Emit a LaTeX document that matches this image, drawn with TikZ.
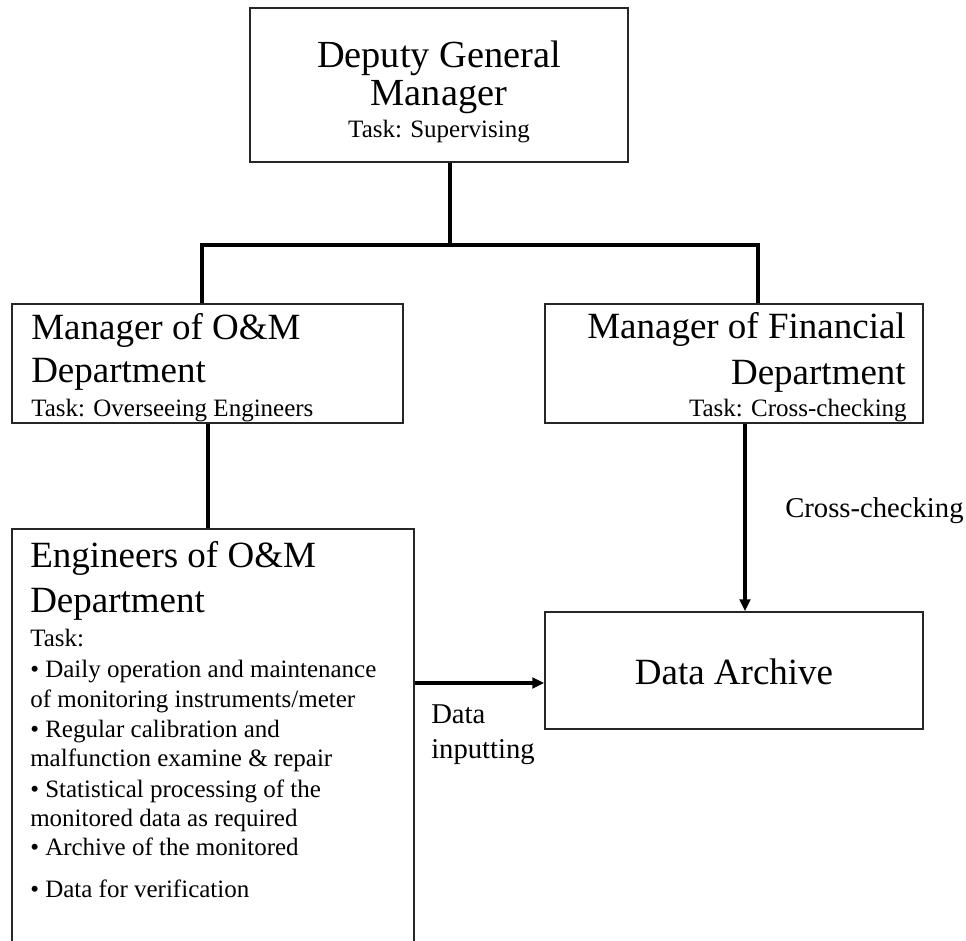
\documentclass[tikz,border=0pt]{standalone}
\usepackage{fontspec}
\setmainfont{Liberation Serif}
\usetikzlibrary{arrows.meta,calc}
\tikzset{
  box/.style={draw=black!85, line width=1.1pt, rectangle, inner sep=0pt},
  big/.style={font=\fontsize{27.75}{33}\selectfont, inner sep=0pt},
  bigger/.style={font=\fontsize{28.75}{34}\selectfont, inner sep=0pt},
  small/.style={font=\fontsize{18.75}{22}\selectfont, inner sep=0pt},
  lbl/.style={font=\fontsize{21.5}{25}\selectfont, inner sep=0pt},
  conn/.style={line width=3pt, black},
  arr/.style={line width=3pt, black, -{Triangle[length=9pt,width=8pt]}}
}
\begin{document}
\begin{tikzpicture}[x=0.75pt, y=-0.75pt]
\clip (0,0) rectangle (966,941);
\fill[white] (0,0) rectangle (966,941);
% boxes
\node[box, minimum width=283.5pt, minimum height=115.5pt] (dgm) at (439,85) {};
\node[box, minimum width=293.25pt, minimum height=89.25pt] (oml) at (207.5,363.5) {};
\node[box, minimum width=283.5pt, minimum height=89.25pt] (fin) at (734,363.5) {};
\node[box, minimum width=301.5pt, minimum height=323.25pt] (eng) at (213,744.5) {};
\node[box, minimum width=283.5pt, minimum height=87.75pt] (da) at (734,670.5) {};
% texts
\node[bigger, anchor=base] (dgm1) at (439,68) {Deputy General};
\node[bigger, anchor=base] (dgm2) at (439,106) {Manager};
\node[small, anchor=base] (dgm3) at (439,138) {Task: Supervising};
\node[big, anchor=base west] (oml1) at (31,339) {Manager of O\&M};
\node[big, anchor=base west] (oml2) at (31,382) {Department};
\node[small, anchor=base west] (oml3) at (31,416) {Task: Overseeing Engineers};
\node[big, anchor=base east] (fin1) at (906,338) {Manager of Financial};
\node[big, anchor=base east] (fin2) at (906,384) {Department};
\node[small, anchor=base east] (fin3) at (907,416) {Task: Cross-checking};
\node[big, anchor=base west] (eng1) at (30,567) {Engineers of O\&M};
\node[big, anchor=base west] (eng2) at (30,612) {Department};
\node[small, anchor=base west] (eng3) at (30,646) {Task:};
\node[small, anchor=base west] (eng4) at (30,677) {• Daily operation and maintenance};
\node[small, anchor=base west] (eng5) at (30,707) {of monitoring instruments/meter};
\node[small, anchor=base west] (eng6) at (30,737) {• Regular calibration and};
\node[small, anchor=base west] (eng7) at (30,766) {malfunction examine \& repair};
\node[small, anchor=base west] (eng8) at (30,797) {• Statistical processing of the};
\node[small, anchor=base west] (eng9) at (30,826) {monitored data as required};
\node[small, anchor=base west] (eng10) at (30,855) {• Archive of the monitored};
\node[small, anchor=base west] (eng11) at (30,897) {• Data for verification};
\node[big, anchor=base] (da1) at (734,684) {Data Archive};
\node[lbl, anchor=base west] (cc) at (785,517) {Cross-checking};
\node[lbl, anchor=base west] (di1) at (431,723) {Data};
\node[lbl, anchor=base west] (di2) at (431,758) {inputting};
% connectors
\coordinate (j) at (450,245);
\coordinate (jl) at (202,245);
\coordinate (jr) at (758,245);
\draw[conn] (dgm.south -| j) -- (j);
\draw[conn] (jl |- oml.north) -- (jl) -- (jr) -- (jr |- fin.north);
\draw[conn] (oml.south) -- (oml.south |- eng.north);
\coordinate (fa) at ($(fin.south)+(11,0)$);
\draw[arr] (fa) -- (fa |- da.north);
\coordinate (ain) at ($(da.west)+(0,12.5)$);
\draw[arr] (eng.east |- ain) -- (ain);
\end{tikzpicture}
\end{document}
